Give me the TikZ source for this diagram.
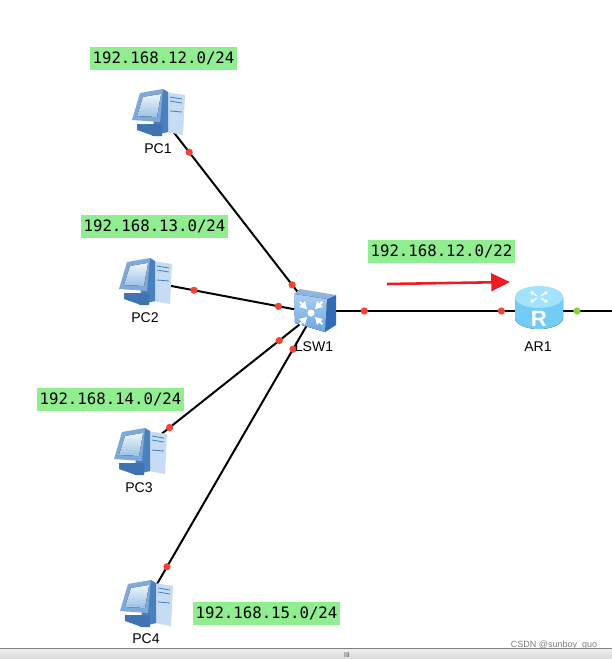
\documentclass[tikz,border=0pt]{standalone}
\usepackage{fontspec}
\setmainfont{Liberation Sans}
\newfontfamily\netfont{DejaVu Sans Mono}
\usetikzlibrary{arrows.meta,positioning,shapes}

\definecolor{netgreen}{HTML}{90EE90}
\definecolor{dotred}{HTML}{F04438}
\definecolor{dotgreen}{HTML}{8CD03C}
\definecolor{arrowred}{HTML}{ED1C24}
\definecolor{pcframe}{HTML}{7FA9D8}
\definecolor{pcback}{HTML}{4A80BD}
\definecolor{pcstand}{HTML}{3F74B0}
\definecolor{pctower}{HTML}{C6DCF2}
\definecolor{pcscreenhi}{HTML}{EEF5FC}
\definecolor{pcscreenlo}{HTML}{9CC1E6}
\definecolor{swfronthi}{HTML}{A9CEF3}
\definecolor{swfrontlo}{HTML}{6FA5DE}
\definecolor{swtop}{HTML}{8FB4DE}
\definecolor{swside}{HTML}{2F6CB5}
\definecolor{artop}{HTML}{A2E2FB}
\definecolor{arside}{HTML}{72CCF4}
\definecolor{arsidehi}{HTML}{9CE4FC}

\tikzset{
  link/.style={black, line width=1.7pt},
  reddot/.style={circle, fill=dotred, inner sep=0pt, minimum size=6.2pt},
  greendot/.style={circle, fill=dotgreen, inner sep=0pt, minimum size=6.2pt},
  netlabel/.style={fill=netgreen, inner sep=0pt, minimum width=4.41cm, minimum height=0.69cm, font=\netfont\fontsize{13.4}{15}\selectfont},
  devlabel/.style={inner sep=0pt, font=\fontsize{12}{14}\selectfont},
  pcicon/.pic={
    % tower
    \fill[pctower] (8,-20) -- (27,-17) -- (25,23) -- (8,20) -- cycle;
    \draw[pcback, line width=0.7pt] (12,-15) -- (24,-13) (12,-11) -- (24,-9) (12,-1) -- (24,0);
    % back of the monitor
    \fill[pcback] (5,-23) -- (10,-20) -- (10,20) -- (-6,24) -- (-4,8) -- cycle;
    % stand
    \fill[pcstand] (-21,12) -- (4,12) -- (4,24) -- (-4,24) -- (-21,18) -- cycle;
    % monitor
    \fill[pcframe] (-18,-19) -- (5,-23) -- (2,10) -- (-26,8) -- cycle;
    \fill[top color=pcscreenhi, bottom color=pcscreenlo] (-15,-15) -- (3,-18) -- (-1,5) -- (-21,4) -- cycle;
  },
  switchicon/.pic={
    % side, top, front
    \fill[swside] (13,-14) -- (22,-18) -- (22,12) -- (11,19) -- cycle;
    \fill[swtop] (-20,-19) -- (-14,-24) -- (22,-18) -- (13,-14) -- cycle;
    \fill[top color=swfronthi, bottom color=swfrontlo] (-20,-19) -- (13,-14) -- (11,19) -- (-19,10) -- cycle;
    \fill[white] (-3,0) circle (3.5);
    \foreach \ang in {45,135,225,315}
      \draw[white, line width=1.8pt, -{Latex[length=6.5pt,width=8pt]}, shift={(-3,0)}, rotate=\ang] (16,0) -- (5,0);
  },
  routericon/.pic={
    \fill[left color=arside, middle color=arsidehi, right color=arside] (-24,-14) -- (-24,7) arc[start angle=180, end angle=360, x radius=24, y radius=-11] -- (24,-14) -- cycle;
    \fill[artop] (0,-14) ellipse (24 and 11);
    \foreach \ang in {45,135,225,315}
      \draw[white, line width=1.1pt, -{Latex[length=3pt,width=4pt]}, shift={(0,-14)}, yscale=0.6, rotate=\ang] (3,0) -- (13,0);
  }
}

\begin{document}
\begin{tikzpicture}[x=0.03cm, y=-0.03cm]
\useasboundingbox (0,0) rectangle (612,659);
\fill[white] (0,0) rectangle (612,659);

% Devices
\coordinate (pc1) at (158,112);
\coordinate (pc2) at (145,281);
\coordinate (pc3) at (140,451);
\coordinate (pc4) at (146,603);
\coordinate (lsw1) at (314,313);
\coordinate (lsw1port) at (330,311);
\coordinate (ar1) at (539,311);
\coordinate (uplink) at (612,311);

% Links
\draw[link] (pc1) -- node[pos=0.2,reddot] (pc1dot) {} node[pos=0.86,reddot] (lsw1dota) {} (lsw1);
\draw[link] (pc2) -- node[pos=0.29,reddot] (pc2dot) {} node[pos=0.79,reddot] (lsw1dotb) {} (lsw1);
\draw[link] (pc3) -- node[pos=0.17,reddot] (pc3dot) {} node[pos=0.80,reddot] (lsw1dotc) {} (lsw1);
\draw[link] (pc4) -- node[pos=0.125,reddot] (pc4dot) {} node[pos=0.875,reddot] (lsw1dotd) {} (lsw1);
\draw[link] (lsw1port) -- node[pos=0.164,reddot] (lsw1dote) {} node[pos=0.82,reddot] (ar1dot) {} (ar1);
\draw[link] (ar1) -- node[pos=0.52,greendot] (ar1dotb) {} (uplink);

% Icons
\pic at (pc1) {pcicon};
\pic at (pc2) {pcicon};
\pic at (pc3) {pcicon};
\pic at (pc4) {pcicon};
\pic at (lsw1) {switchicon};
\pic at (ar1) {routericon};
\node[text=white, inner sep=0pt, font=\bfseries\fontsize{19}{19}\selectfont] (ar1mark) at (539,319) {R};

% Labels
\node[devlabel] (pc1name) at (158,149) {PC1};
\node[devlabel] (pc2name) at (145,318) {PC2};
\node[devlabel] (pc3name) at (139,488) {PC3};
\node[devlabel] (pc4name) at (146,639) {PC4};
\node[devlabel] (lsw1name) at (314,347) {LSW1};
\node[devlabel] (ar1name) at (538,347) {AR1};

\node[netlabel] (net12) at (163.5,58.5) {192.168.12.0/24};
\node[netlabel] (net13) at (154.5,226.5) {192.168.13.0/24};
\node[netlabel] (netsum) at (441.5,251.5) {192.168.12.0/22};
\node[netlabel] (net14) at (110.5,399.5) {192.168.14.0/24};
\node[netlabel] (net15) at (266.5,613.5) {192.168.15.0/24};

% Arrow
\coordinate (arrowtail) at (387,284);
\coordinate (arrowhead) at (510,282);
\draw[arrowred, line width=2.2pt, -{Triangle[length=16pt,width=15pt]}] (arrowtail) -- (arrowhead);

% Window bar
\fill[top color=gray!12, bottom color=gray!30] (0,648) rectangle (612,659);
\draw[gray, line width=0.8pt] (0,648) -- (612,648);
\node[inner sep=0pt, text=black!70, font=\fontsize{6}{6}\selectfont] (barmark) at (347,655) {III};
\node[inner sep=0pt, text=gray, font=\fontsize{7.7}{10}\selectfont] (watermark) at (554,645) {CSDN @sunboy\_guo};
\end{tikzpicture}
\end{document}
